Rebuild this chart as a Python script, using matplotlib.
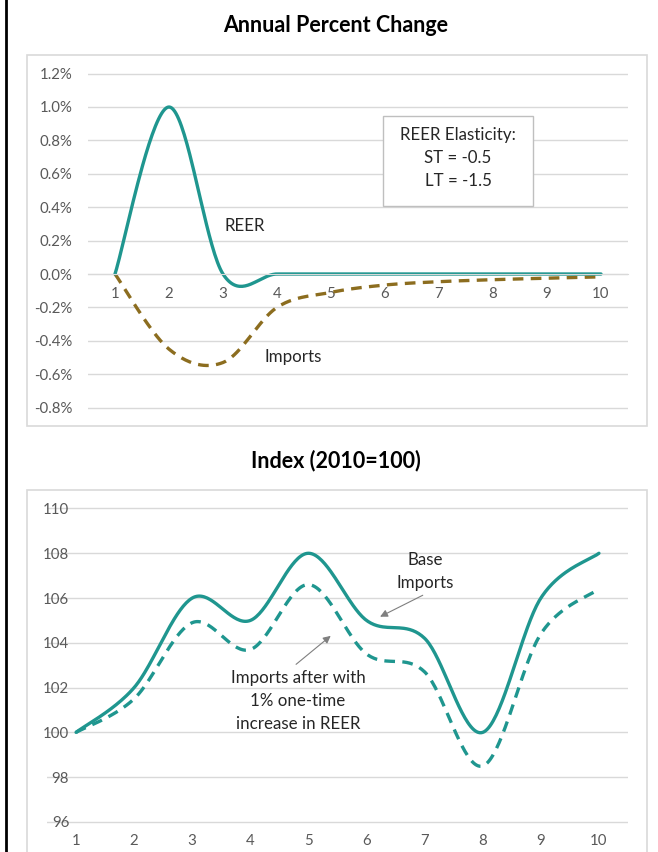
import numpy as np
import matplotlib.pyplot as plt
from matplotlib.patches import Rectangle
from matplotlib.lines import Line2D

# ----- DATA -----
years = [1, 2, 3, 4, 5, 6, 7, 8, 9, 10]

# annual percent change (%)
reer_change = [0.0, 1.0, 0.0, 0.0, 0.0, 0.0, 0.0, 0.0, 0.0, 0.0]
imports_change = [0.0, -0.45, -0.53, -0.20, -0.11, -0.066, -0.046, -0.034, -0.025, -0.017]

# index levels (2010=100)
base_imports = [100.0, 102.0, 106.0, 105.0, 108.0, 105.0, 104.2, 100.0, 106.0, 108.0]
imports_after = [100.0, 101.5, 104.9, 103.7, 106.6, 103.5, 102.7, 98.5, 104.4, 106.4]

pct_ticks = [-0.8, -0.6, -0.4, -0.2, 0.0, 0.2, 0.4, 0.6, 0.8, 1.0, 1.2]
index_ticks = [96, 98, 100, 102, 104, 106, 108, 110]

TEAL = '#1f968f'
GOLD = '#8c6d1f'
GRID = '#d9d9d9'
TICK = '#595959'
TEXT = '#262626'
FONT = 'Lato'

plt.rcParams['font.family'] = FONT

W, H = 658, 852
LABEL_SIZE = 12.2
TICK_SIZE = 10.8


def smooth(x, y, n=40):
    # excel style smoothed line: catmull-rom bezier between points
    x = np.asarray(x, float)
    y = np.asarray(y, float)
    px = np.concatenate([[x[0]], x, [x[-1]]])
    py = np.concatenate([[y[0]], y, [y[-1]]])
    xs, ys = [], []
    t = np.linspace(0, 1, n)
    for i in range(1, len(px) - 2):
        p0 = np.array([px[i], py[i]])
        p3 = np.array([px[i + 1], py[i + 1]])
        p1 = p0 + (np.array([px[i + 1], py[i + 1]]) - np.array([px[i - 1], py[i - 1]])) / 6
        p2 = p3 - (np.array([px[i + 2], py[i + 2]]) - np.array([px[i], py[i]])) / 6
        b = ((1 - t) ** 3)[:, None] * p0 + (3 * (1 - t) ** 2 * t)[:, None] * p1 \
            + (3 * (1 - t) * t ** 2)[:, None] * p2 + (t ** 3)[:, None] * p3
        xs.extend(b[:, 0])
        ys.extend(b[:, 1])
    return xs, ys


def box(x0, y0, x1, y1, **kw):
    # rectangle in pixel coords measured from the top-left corner
    return Rectangle((x0 / W, 1 - y1 / H), (x1 - x0) / W, (y1 - y0) / H,
                     transform=fig.transFigure, **kw)


def place(ax, left, right, top, bottom):
    ax.set_position([left / W, 1 - bottom / H, (right - left) / W, (bottom - top) / H])


fig = plt.figure(figsize=(W / 100, H / 100), dpi=100)
fig.patch.set_facecolor('white')

# chart frames and the black rule on the left
fig.add_artist(box(27, 55, 647, 426, fill=False, edgecolor=GRID, lw=1.2))
fig.add_artist(box(27, 490, 647, 880, fill=False, edgecolor=GRID, lw=1.2))
fig.add_artist(Line2D([5.5 / W, 5.5 / W], [0, 1], transform=fig.transFigure,
                      color='black', lw=2.0))

fig.text(336 / W, 1 - 26 / H, 'Annual Percent Change', ha='center', va='center',
         fontsize=15.5, fontweight='bold', color='black')
fig.text(336 / W, 1 - 461 / H, 'Index (2010=100)', ha='center', va='center',
         fontsize=15.5, fontweight='bold', color='black')

# ----- TOP: annual percent change -----
ax1 = fig.add_axes([0, 0, 1, 1])
y_per_unit = 167.0
place(ax1, 88, 628, 274 - 1.25 * y_per_unit, 274 + 0.85 * y_per_unit)
ax1.set_xlim(0.5, 10.5)
ax1.set_ylim(-0.85, 1.25)
ax1.set_yticks(pct_ticks)
ax1.set_yticklabels([f'{v:.1f}%' for v in pct_ticks])
ax1.set_xticks(years)
ax1.grid(axis='y', color=GRID, lw=1.0)
ax1.set_axisbelow(True)
for s in ['top', 'right', 'left']:
    ax1.spines[s].set_visible(False)
ax1.spines['bottom'].set_position(('data', 0))
ax1.spines['bottom'].set_color(GRID)
ax1.tick_params(axis='both', length=0, labelsize=TICK_SIZE, labelcolor=TICK)
ax1.tick_params(axis='y', pad=11)
ax1.tick_params(axis='x', pad=9.5)

xs, ys = smooth(years, imports_change)
ax1.plot(xs, ys, color=GOLD, lw=2.4, ls=(0, (3.2, 2.2)), solid_capstyle='butt')
xs, ys = smooth(years, reer_change)
ax1.plot(xs, ys, color=TEAL, lw=2.4, solid_capstyle='round')

ax1.text(3.41, 0.287, 'REER', ha='center', va='center', fontsize=LABEL_SIZE, color=TEXT)
ax1.text(4.30, -0.497, 'Imports', ha='center', va='center', fontsize=LABEL_SIZE, color=TEXT)

fig.add_artist(box(383, 116, 533, 206, facecolor='white', edgecolor='#bfbfbf', lw=1.0))
for line, py in zip(['REER Elasticity:', 'ST = -0.5', 'LT = -1.5'], [135, 158, 181]):
    fig.text(458 / W, 1 - py / H, line, ha='center', va='center',
             fontsize=LABEL_SIZE, color=TEXT)

# ----- BOTTOM: index levels -----
ax2 = fig.add_axes([0, 0, 1, 1])
iy = 22.39
place(ax2, 47, 628, 508.5 - 0.3 * iy, 821.9 + 0.3 * iy)
ax2.set_xlim(0.5, 10.5)
ax2.set_ylim(95.7, 110.3)
ax2.set_yticks(index_ticks)
ax2.set_xticks(years)
ax2.grid(axis='y', color=GRID, lw=1.0)
ax2.set_axisbelow(True)
for s in ax2.spines.values():
    s.set_visible(False)
ax2.tick_params(axis='both', length=0, labelsize=TICK_SIZE, labelcolor=TICK)
ax2.tick_params(axis='y', pad=-16)
ax2.tick_params(axis='x', pad=4)

xs, ys = smooth(years, imports_after)
ax2.plot(xs, ys, color=TEAL, lw=2.4, ls=(0, (3.2, 2.2)), solid_capstyle='butt')
xs, ys = smooth(years, base_imports)
ax2.plot(xs, ys, color=TEAL, lw=2.4, solid_capstyle='round')

arrow = dict(arrowstyle='-|>', color='#7f7f7f', lw=0.8, mutation_scale=11)
ax2.text(7.01, 107.70, 'Base', ha='center', va='center', fontsize=LABEL_SIZE, color=TEXT)
ax2.text(7.01, 106.67, 'Imports', ha='center', va='center', fontsize=LABEL_SIZE, color=TEXT)
ax2.annotate('', xy=(6.19, 105.11), xytext=(7.01, 106.18), arrowprops=arrow)

for line, yy in zip(['Imports after with', '1% one-time', 'increase in REER'],
                    [102.44, 101.42, 100.39]):
    ax2.text(4.82, yy, line, ha='center', va='center', fontsize=LABEL_SIZE, color=TEXT)
ax2.annotate('', xy=(5.42, 104.39), xytext=(4.75, 102.96), arrowprops=arrow)

fig.savefig('out.png', dpi=100, facecolor='white')
